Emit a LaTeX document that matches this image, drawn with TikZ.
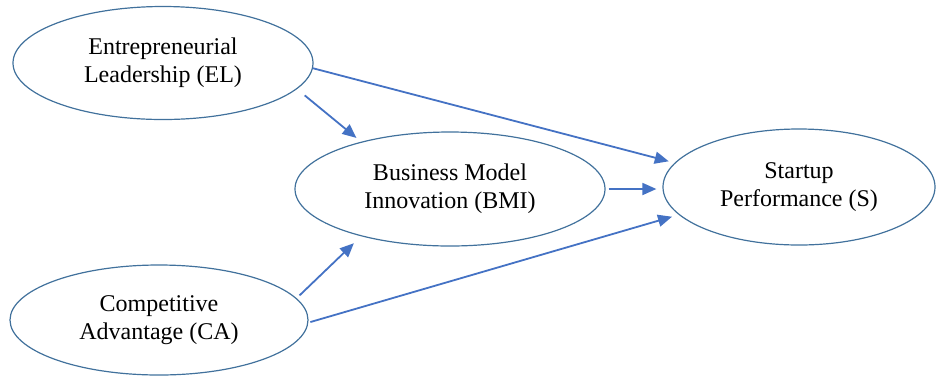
\documentclass[tikz,border=0pt]{standalone}
\usepackage{fontspec}
\setmainfont{Liberation Serif}
\usetikzlibrary{shapes.geometric,arrows.meta}
\definecolor{rimblue}{RGB}{65,113,156}
\definecolor{pathblue}{RGB}{68,114,196}
\tikzset{
  latent/.style={ellipse, draw=rimblue, line width=0.6pt, inner sep=0pt,
    align=center, font=\fontsize{12}{14}\selectfont},
  path/.style={draw=pathblue, line width=0.9pt,
    -{Triangle[length=7pt,width=6pt]}}
}
\begin{document}
\begin{tikzpicture}[x=0.5pt,y=-0.5pt]
      \useasboundingbox (0,0) rectangle (939,377);
      \draw
        (163,63) node[latent, minimum width=150pt, minimum height=56.5pt] (el){Entrepreneurial\\Leadership (EL)}
        (450,189) node[latent, minimum width=155pt, minimum height=57pt] (bmi){Business Model\\Innovation (BMI)}
        (799,187) node[latent, minimum width=136pt, minimum height=58pt] (s){Startup\\Performance (S)}
        (159,320) node[latent, minimum width=149pt, minimum height=55pt] (ca){Competitive\\Advantage (CA)};
      \begin{scope}[path]
        \draw[shorten <=5pt, shorten >=3pt] (el.-11) to (bmi.152);
        \draw[shorten <=0pt, shorten >=3pt] (el.-2) to (s.169);
        \draw[shorten <=1.5pt, shorten >=3pt] (bmi.east) to (bmi.east -| s.west);
        \draw[shorten <=2pt, shorten >=5pt] (ca.9) to (bmi.-152);
        \draw[shorten <=1pt, shorten >=3.5pt] (ca.-1) to (s.-167);
      \end{scope}
    \end{tikzpicture}
\end{document}
